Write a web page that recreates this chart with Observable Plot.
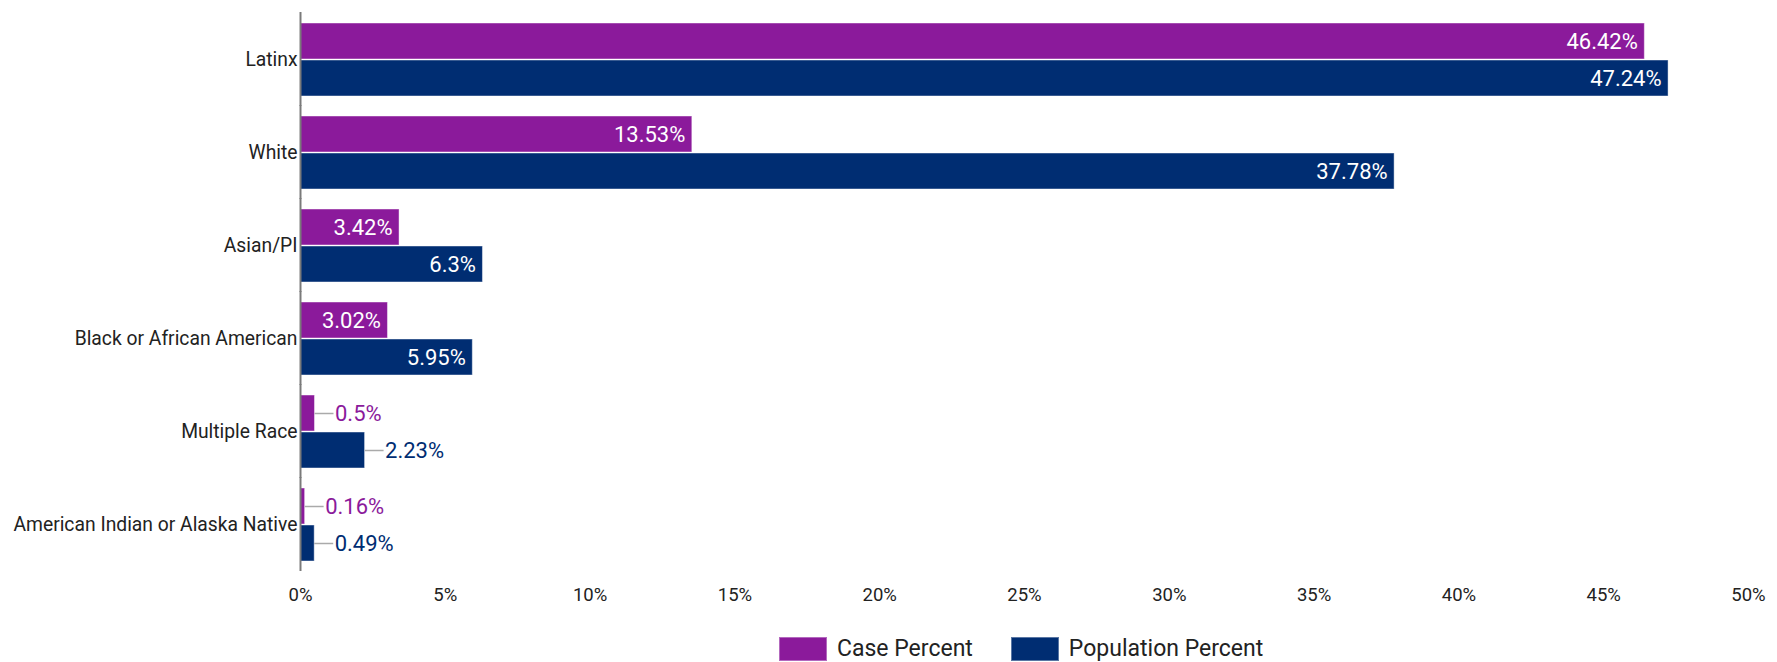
<!DOCTYPE html>
<html>
<head>
<meta charset="utf-8">
<script src="https://cdn.jsdelivr.net/npm/d3@7"></script>
<script src="https://cdn.jsdelivr.net/npm/@observablehq/plot@0.6"></script>
<style>
  html, body { margin: 0; padding: 0; background: #fff; }
  body { width: 1777px; height: 662px; position: relative; overflow: hidden; font-family: Roboto, sans-serif; }
  #legend { position: absolute; top: 636px; left: 779px; height: 26px; display: flex; align-items: center; font-size: 23px; color: #222; line-height: 26px; }
  .item { display: flex; align-items: center; margin-right: 38px; }
  .sw { width: 48px; height: 24px; margin-right: 10px; box-sizing: border-box; border: 1px solid rgba(255,255,255,0.35); }
</style>
</head>
<body>
<div id="chart"></div>
<div id="legend"></div>
<script>
const categories = ["Latinx", "White", "Asian/PI", "Black or African American", "Multiple Race", "American Indian or Alaska Native"];
const casePercent = [46.42, 13.53, 3.42, 3.02, 0.5, 0.16];
const populationPercent = [47.24, 37.78, 6.3, 5.95, 2.23, 0.49];
const seriesNames = ["Case Percent", "Population Percent"];
const seriesColors = ["#8b1a9b", "#002d72"];
const xTicks = [0, 5, 10, 15, 20, 25, 30, 35, 40, 45, 50];

const rows = [];
categories.forEach((c, i) => {
  rows.push({category: c, series: seriesNames[0], value: casePercent[i]});
  rows.push({category: c, series: seriesNames[1], value: populationPercent[i]});
});
const inside = rows.filter(d => d.value >= 3);
const outside = rows.filter(d => d.value < 3);
const label = d => d.value + "%";

const chart = Plot.plot({
  width: 1777,
  height: 622,
  marginTop: 10,
  marginBottom: 49,
  marginLeft: 300,
  marginRight: 29,
  style: {fontFamily: "Roboto, sans-serif", fontSize: "18px", color: "#222", background: "#fff"},
  x: {domain: [0, 50], axis: null},
  fy: {domain: categories, paddingInner: 0.2, paddingOuter: 0.1, label: null, axis: null},
  y: {domain: seriesNames, axis: null, paddingInner: 0.03, paddingOuter: 0},
  color: {domain: seriesNames, range: seriesColors},
  marks: [
    Plot.barX(rows, {fy: "category", y: "series", x: "value", fill: "series", stroke: "white", strokeOpacity: 0.45, strokeWidth: 1}),
    Plot.ruleY(outside, {fy: "category", y: "series", x1: "value", x2: "value", insetRight: -19, stroke: "#aaa", strokeWidth: 1.5}),
    Plot.text(inside, {fy: "category", y: "series", x: "value", text: label, textAnchor: "end", dx: -7, fill: "white", fontSize: 22}),
    Plot.text(outside, {fy: "category", y: "series", x: "value", text: label, textAnchor: "start", dx: 20, fill: "series", fontSize: 22}),
    Plot.ruleX([0], {stroke: "#7a7a7a", strokeWidth: 2, insetTop: -10, insetBottom: -10}),
    Plot.axisFy({anchor: "left", tickSize: 0, tickPadding: 3, fontSize: 19.3, label: null}),
    Plot.axisX({anchor: "bottom", ticks: xTicks, tickSize: 0, tickPadding: 26, tickFormat: d => d + "%", fontSize: 18.5, label: null})
  ]
});
document.getElementById("chart").appendChild(chart);

const legend = document.getElementById("legend");
seriesNames.forEach((s, i) => {
  const item = document.createElement("div");
  item.className = "item";
  const sw = document.createElement("div");
  sw.className = "sw";
  sw.style.background = seriesColors[i];
  const t = document.createElement("span");
  t.textContent = s;
  item.appendChild(sw);
  item.appendChild(t);
  legend.appendChild(item);
});
</script>
</body>
</html>
